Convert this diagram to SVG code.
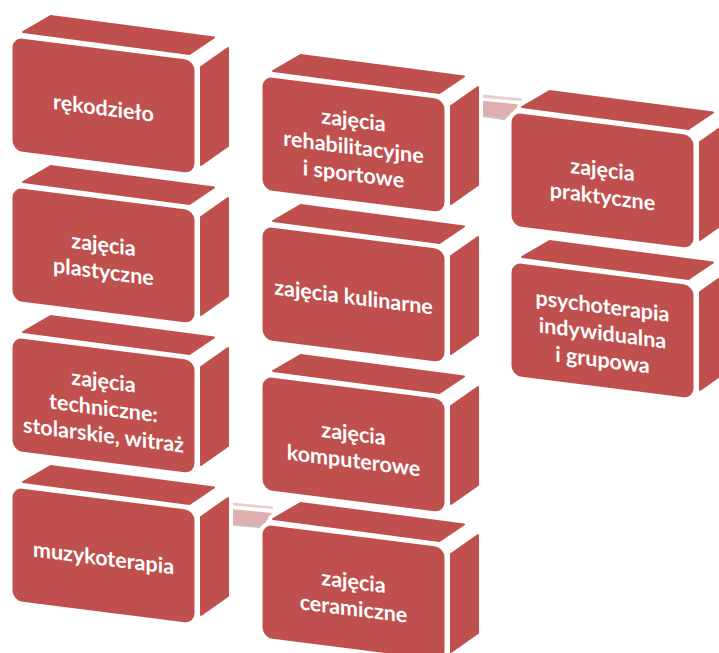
<svg xmlns="http://www.w3.org/2000/svg" width="719" height="653" viewBox="0 0 719 653">
<style>
.face{fill:#C0504D;stroke:#C0504D;stroke-width:2;stroke-linejoin:round}
.halo{fill:#fff;stroke:#fff;stroke-width:10;stroke-linejoin:round}
.lbl{font-family:Lato,"Open Sans","Liberation Sans",sans-serif;font-weight:700;font-size:21.5px;fill:#fff;text-anchor:middle}
.cTop{fill:#EBCFCE}
.cFront{fill:#DDB0AF}
.cEdge{fill:none;stroke:#CBC6C6;stroke-width:1.5}
</style>
<defs>
<g id="box">
<rect x="0.5" y="0.5" width="180" height="111" rx="9" transform="matrix(1,0.127,0,1,13,38)"/>
<polygon points="23,32 50.5,16 214,37.5 189.5,54"/>
<polygon points="201,67 228,48 228,146 201,165"/>
</g>
</defs>
<rect width="719" height="653" fill="#fff"/>
<g id="connectors">
<polygon class="cTop" points="480,94.3 522,98.5 522,101 480,97.7"/>
<polygon class="cFront" points="480,100.5 520,104.5 505,119.5 480,116"/>
<polyline class="cEdge" points="480,116 505,119.5"/>
<polygon class="cTop" points="232,502.5 273,506.5 273,509 232,505.5"/>
<polygon class="cFront" points="232,509 272,513 262,527.5 232,525"/>
<polyline class="cEdge" points="232,525 262,527.5"/>
</g>
<g id="n1">
<use href="#box" class="halo"/><use href="#box" class="face"/>
<text class="lbl" transform="matrix(1,0.127,0,1,13,38)"><tspan x="90.5" y="66">rękodzieło</tspan></text>
</g>
<g id="n2" transform="translate(0,150)">
<use href="#box" class="halo"/><use href="#box" class="face"/>
<text class="lbl" transform="matrix(1,0.127,0,1,13,38)"><tspan x="90.5" y="52.5">zajęcia</tspan><tspan x="90.5" y="79.5">plastyczne</tspan></text>
</g>
<g id="n3" transform="translate(0,300)">
<use href="#box" class="halo"/><use href="#box" class="face"/>
<text class="lbl" transform="matrix(1,0.127,0,1,13,38)"><tspan x="90.5" y="39">zajęcia</tspan><tspan x="90.5" y="66">techniczne:</tspan><tspan x="90.5" y="93">stolarskie, witraż</tspan></text>
</g>
<g id="n4" transform="translate(0,450)">
<use href="#box" class="halo"/><use href="#box" class="face"/>
<text class="lbl" transform="matrix(1,0.127,0,1,13,38)"><tspan x="90.5" y="66">muzykoterapia</tspan></text>
</g>
<g id="n5" transform="translate(250,39)">
<use href="#box" class="halo"/><use href="#box" class="face"/>
<text class="lbl" transform="matrix(1,0.127,0,1,13,38)"><tspan x="90.5" y="39">zajęcia</tspan><tspan x="90.5" y="66">rehabilitacyjne</tspan><tspan x="90.5" y="93">i sportowe</tspan></text>
</g>
<g id="n6" transform="translate(250,189)">
<use href="#box" class="halo"/><use href="#box" class="face"/>
<text class="lbl" transform="matrix(1,0.127,0,1,13,38)"><tspan x="90.5" y="66">zajęcia kulinarne</tspan></text>
</g>
<g id="n7" transform="translate(250,339)">
<use href="#box" class="halo"/><use href="#box" class="face"/>
<text class="lbl" transform="matrix(1,0.127,0,1,13,38)"><tspan x="90.5" y="52.5">zajęcia</tspan><tspan x="90.5" y="79.5">komputerowe</tspan></text>
</g>
<g id="n8" transform="translate(250,487)">
<use href="#box" class="halo"/><use href="#box" class="face"/>
<text class="lbl" transform="matrix(1,0.127,0,1,13,38)"><tspan x="90.5" y="52.5">zajęcia</tspan><tspan x="90.5" y="79.5">ceramiczne</tspan></text>
</g>
<g id="n9" transform="translate(499,75)">
<use href="#box" class="halo"/><use href="#box" class="face"/>
<text class="lbl" transform="matrix(1,0.127,0,1,13,38)"><tspan x="90.5" y="52.5">zajęcia</tspan><tspan x="90.5" y="79.5">praktyczne</tspan></text>
</g>
<g id="n10" transform="translate(499,225)">
<use href="#box" class="halo"/><use href="#box" class="face"/>
<text class="lbl" transform="matrix(1,0.127,0,1,13,38)"><tspan x="90.5" y="39">psychoterapia</tspan><tspan x="90.5" y="66">indywidualna</tspan><tspan x="90.5" y="93">i grupowa</tspan></text>
</g>
</svg>
